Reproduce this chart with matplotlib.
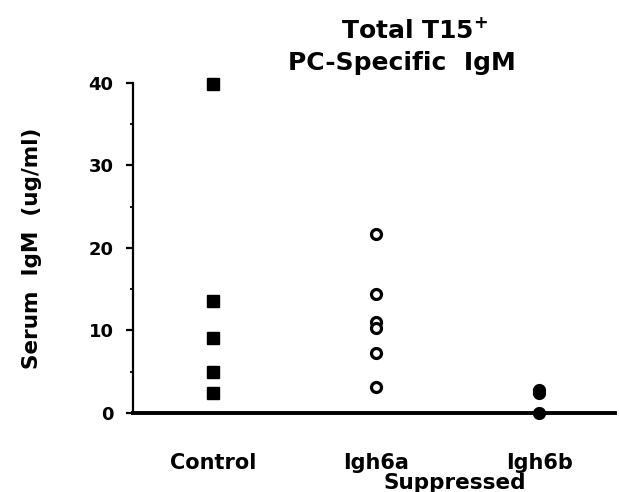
import matplotlib
matplotlib.use('Agg')
import matplotlib.pyplot as plt
from matplotlib.ticker import MultipleLocator

plt.rcParams['font.family'] = ['DejaVu Sans']
plt.rcParams['font.weight'] = 'bold'

# serum IgM values (ug/ml)
groups = ['Control', 'Igh6a', 'Igh6b']
control = [39.9, 13.6, 9.1, 5.0, 2.4]
igh6a = [21.7, 14.4, 11.0, 10.3, 7.3, 3.2]
igh6b = [2.8, 2.4, 0.0]

fig = plt.figure(figsize=(6.19, 4.92), dpi=100)
ax = fig.add_axes([0.215, 0.1606, 0.779, 0.6707])

ax.plot([1] * len(control), control, 's', color='black', markersize=8.5,
        clip_on=False, zorder=3)
ax.plot([2] * len(igh6a), igh6a, 'o', markerfacecolor='white',
        markeredgecolor='black', markeredgewidth=2.3, markersize=7.2,
        clip_on=False, zorder=3)
ax.plot([3] * len(igh6b), igh6b, 'o', color='black', markersize=8.5,
        clip_on=False, zorder=3)

ax.set_xlim(0.509, 3.466)
ax.set_ylim(0, 40)

for s in ['top', 'right']:
    ax.spines[s].set_visible(False)
ax.spines['left'].set_linewidth(1.6)
ax.spines['bottom'].set_linewidth(2.8)

ax.yaxis.set_major_locator(MultipleLocator(10))
ax.yaxis.set_minor_locator(MultipleLocator(5))
ax.tick_params(axis='y', which='major', direction='out', length=5, width=1.6,
               labelsize=13, pad=9)
ax.tick_params(axis='y', which='minor', direction='out', length=2.5, width=1.3)

ax.set_xticks([1, 2, 3])
ax.set_xticklabels(groups, fontsize=15)
ax.tick_params(axis='x', length=0, pad=29)
ax.text(2.48, -8.5, 'Suppressed', ha='center', va='center', fontsize=15.5,
        fontweight='bold', clip_on=False)

fig.text(0.052, 0.496, 'Serum  IgM  (ug/ml)', rotation=90, ha='center',
         va='center', fontsize=15.5, fontweight='bold')

fig.text(0.67, 0.938, 'Total T15$^{\\mathbf{+}}$', ha='center', va='center',
         fontsize=18, fontweight='bold')
fig.text(0.65, 0.872, 'PC-Specific  IgM', ha='center', va='center',
         fontsize=18, fontweight='bold')

fig.savefig('out.png', dpi=100)
